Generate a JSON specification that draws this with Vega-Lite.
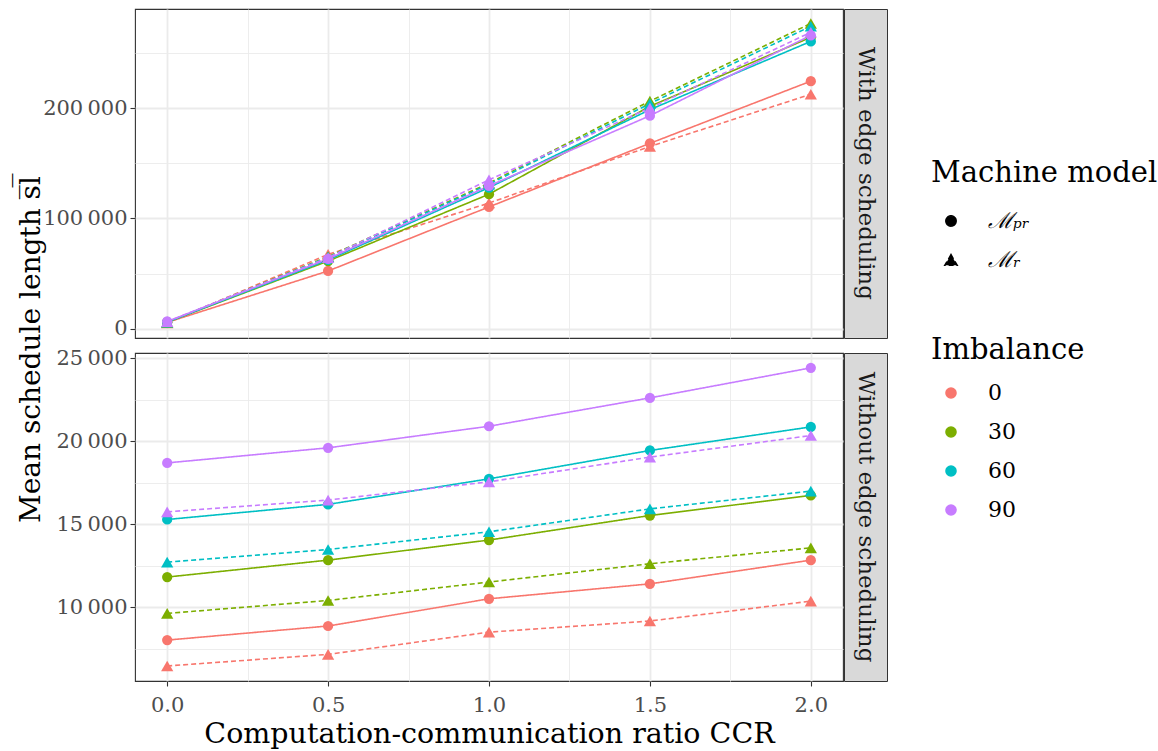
{
  "$schema": "https://vega.github.io/schema/vega-lite/v6.json",
  "background": "white",
  "padding": {"left": 16, "top": 8, "right": 0, "bottom": 0},
  "config": {
    "font": "DejaVu Serif",
    "locale": {"number": {"decimal": ".", "thousands": "\u2009", "grouping": [3], "currency": ["", ""]}},
    "view": {"stroke": "#333333", "strokeWidth": 1.1},
    "axis": {
      "domain": false,
      "tickColor": "#333333",
      "tickSize": 5,
      "tickWidth": 1.1,
      "labelColor": "#4D4D4D",
      "labelFontSize": 21,
      "labelPadding": 3,
      "gridColor": "#EBEBEB",
      "titleColor": "#000000",
      "titleFontWeight": "normal",
      "titleFontSize": 30
    },
    "legend": {
      "titleFontSize": 29,
      "titleFontWeight": "normal",
      "titleColor": "#000000",
      "titleLimit": 400,
      "labelFontSize": 22,
      "labelColor": "#000000",
      "symbolSize": 100,
      "symbolStrokeWidth": 1.6,
      "symbolOffset": 9,
      "rowPadding": 17,
      "titlePadding": 17,
      "labelOffset": 26
    }
  },
  "datasets": {
    "sl": [
      {"edges": "With edge scheduling", "model": "PR", "imbalance": "0", "ccr": 0.0, "length": 6000},
      {"edges": "With edge scheduling", "model": "PR", "imbalance": "0", "ccr": 0.5, "length": 52500},
      {"edges": "With edge scheduling", "model": "PR", "imbalance": "0", "ccr": 1.0, "length": 110500},
      {"edges": "With edge scheduling", "model": "PR", "imbalance": "0", "ccr": 1.5, "length": 168000},
      {"edges": "With edge scheduling", "model": "PR", "imbalance": "0", "ccr": 2.0, "length": 224300},
      {"edges": "With edge scheduling", "model": "R", "imbalance": "0", "ccr": 0.0, "length": 5500},
      {"edges": "With edge scheduling", "model": "R", "imbalance": "0", "ccr": 0.5, "length": 67500},
      {"edges": "With edge scheduling", "model": "R", "imbalance": "0", "ccr": 1.0, "length": 114000},
      {"edges": "With edge scheduling", "model": "R", "imbalance": "0", "ccr": 1.5, "length": 165200},
      {"edges": "With edge scheduling", "model": "R", "imbalance": "0", "ccr": 2.0, "length": 212500},
      {"edges": "With edge scheduling", "model": "PR", "imbalance": "30", "ccr": 0.0, "length": 6200},
      {"edges": "With edge scheduling", "model": "PR", "imbalance": "30", "ccr": 0.5, "length": 61500},
      {"edges": "With edge scheduling", "model": "PR", "imbalance": "30", "ccr": 1.0, "length": 122000},
      {"edges": "With edge scheduling", "model": "PR", "imbalance": "30", "ccr": 1.5, "length": 201500},
      {"edges": "With edge scheduling", "model": "PR", "imbalance": "30", "ccr": 2.0, "length": 264000},
      {"edges": "With edge scheduling", "model": "R", "imbalance": "30", "ccr": 0.0, "length": 6000},
      {"edges": "With edge scheduling", "model": "R", "imbalance": "30", "ccr": 0.5, "length": 65500},
      {"edges": "With edge scheduling", "model": "R", "imbalance": "30", "ccr": 1.0, "length": 132000},
      {"edges": "With edge scheduling", "model": "R", "imbalance": "30", "ccr": 1.5, "length": 206200},
      {"edges": "With edge scheduling", "model": "R", "imbalance": "30", "ccr": 2.0, "length": 276500},
      {"edges": "With edge scheduling", "model": "PR", "imbalance": "60", "ccr": 0.0, "length": 6300},
      {"edges": "With edge scheduling", "model": "PR", "imbalance": "60", "ccr": 0.5, "length": 62500},
      {"edges": "With edge scheduling", "model": "PR", "imbalance": "60", "ccr": 1.0, "length": 128000},
      {"edges": "With edge scheduling", "model": "PR", "imbalance": "60", "ccr": 1.5, "length": 198500},
      {"edges": "With edge scheduling", "model": "PR", "imbalance": "60", "ccr": 2.0, "length": 260300},
      {"edges": "With edge scheduling", "model": "R", "imbalance": "60", "ccr": 0.0, "length": 6100},
      {"edges": "With edge scheduling", "model": "R", "imbalance": "60", "ccr": 0.5, "length": 65000},
      {"edges": "With edge scheduling", "model": "R", "imbalance": "60", "ccr": 1.0, "length": 131000},
      {"edges": "With edge scheduling", "model": "R", "imbalance": "60", "ccr": 1.5, "length": 204000},
      {"edges": "With edge scheduling", "model": "R", "imbalance": "60", "ccr": 2.0, "length": 274000},
      {"edges": "With edge scheduling", "model": "PR", "imbalance": "90", "ccr": 0.0, "length": 6800},
      {"edges": "With edge scheduling", "model": "PR", "imbalance": "90", "ccr": 0.5, "length": 63500},
      {"edges": "With edge scheduling", "model": "PR", "imbalance": "90", "ccr": 1.0, "length": 129500},
      {"edges": "With edge scheduling", "model": "PR", "imbalance": "90", "ccr": 1.5, "length": 193000},
      {"edges": "With edge scheduling", "model": "PR", "imbalance": "90", "ccr": 2.0, "length": 265800},
      {"edges": "With edge scheduling", "model": "R", "imbalance": "90", "ccr": 0.0, "length": 6600},
      {"edges": "With edge scheduling", "model": "R", "imbalance": "90", "ccr": 0.5, "length": 64500},
      {"edges": "With edge scheduling", "model": "R", "imbalance": "90", "ccr": 1.0, "length": 135000},
      {"edges": "With edge scheduling", "model": "R", "imbalance": "90", "ccr": 1.5, "length": 200000},
      {"edges": "With edge scheduling", "model": "R", "imbalance": "90", "ccr": 2.0, "length": 268500},
      {"edges": "Without edge scheduling", "model": "PR", "imbalance": "0", "ccr": 0.0, "length": 8010},
      {"edges": "Without edge scheduling", "model": "PR", "imbalance": "0", "ccr": 0.5, "length": 8860},
      {"edges": "Without edge scheduling", "model": "PR", "imbalance": "0", "ccr": 1.0, "length": 10500},
      {"edges": "Without edge scheduling", "model": "PR", "imbalance": "0", "ccr": 1.5, "length": 11400},
      {"edges": "Without edge scheduling", "model": "PR", "imbalance": "0", "ccr": 2.0, "length": 12830},
      {"edges": "Without edge scheduling", "model": "R", "imbalance": "0", "ccr": 0.0, "length": 6450},
      {"edges": "Without edge scheduling", "model": "R", "imbalance": "0", "ccr": 0.5, "length": 7150},
      {"edges": "Without edge scheduling", "model": "R", "imbalance": "0", "ccr": 1.0, "length": 8490},
      {"edges": "Without edge scheduling", "model": "R", "imbalance": "0", "ccr": 1.5, "length": 9160},
      {"edges": "Without edge scheduling", "model": "R", "imbalance": "0", "ccr": 2.0, "length": 10360},
      {"edges": "Without edge scheduling", "model": "PR", "imbalance": "30", "ccr": 0.0, "length": 11810},
      {"edges": "Without edge scheduling", "model": "PR", "imbalance": "30", "ccr": 0.5, "length": 12830},
      {"edges": "Without edge scheduling", "model": "PR", "imbalance": "30", "ccr": 1.0, "length": 14040},
      {"edges": "Without edge scheduling", "model": "PR", "imbalance": "30", "ccr": 1.5, "length": 15520},
      {"edges": "Without edge scheduling", "model": "PR", "imbalance": "30", "ccr": 2.0, "length": 16730},
      {"edges": "Without edge scheduling", "model": "R", "imbalance": "30", "ccr": 0.0, "length": 9620},
      {"edges": "Without edge scheduling", "model": "R", "imbalance": "30", "ccr": 0.5, "length": 10400},
      {"edges": "Without edge scheduling", "model": "R", "imbalance": "30", "ccr": 1.0, "length": 11510},
      {"edges": "Without edge scheduling", "model": "R", "imbalance": "30", "ccr": 1.5, "length": 12610},
      {"edges": "Without edge scheduling", "model": "R", "imbalance": "30", "ccr": 2.0, "length": 13570},
      {"edges": "Without edge scheduling", "model": "PR", "imbalance": "60", "ccr": 0.0, "length": 15280},
      {"edges": "Without edge scheduling", "model": "PR", "imbalance": "60", "ccr": 0.5, "length": 16190},
      {"edges": "Without edge scheduling", "model": "PR", "imbalance": "60", "ccr": 1.0, "length": 17730},
      {"edges": "Without edge scheduling", "model": "PR", "imbalance": "60", "ccr": 1.5, "length": 19440},
      {"edges": "Without edge scheduling", "model": "PR", "imbalance": "60", "ccr": 2.0, "length": 20860},
      {"edges": "Without edge scheduling", "model": "R", "imbalance": "60", "ccr": 0.0, "length": 12710},
      {"edges": "Without edge scheduling", "model": "R", "imbalance": "60", "ccr": 0.5, "length": 13470},
      {"edges": "Without edge scheduling", "model": "R", "imbalance": "60", "ccr": 1.0, "length": 14540},
      {"edges": "Without edge scheduling", "model": "R", "imbalance": "60", "ccr": 1.5, "length": 15920},
      {"edges": "Without edge scheduling", "model": "R", "imbalance": "60", "ccr": 2.0, "length": 16990},
      {"edges": "Without edge scheduling", "model": "PR", "imbalance": "90", "ccr": 0.0, "length": 18690},
      {"edges": "Without edge scheduling", "model": "PR", "imbalance": "90", "ccr": 0.5, "length": 19600},
      {"edges": "Without edge scheduling", "model": "PR", "imbalance": "90", "ccr": 1.0, "length": 20900},
      {"edges": "Without edge scheduling", "model": "PR", "imbalance": "90", "ccr": 1.5, "length": 22610},
      {"edges": "Without edge scheduling", "model": "PR", "imbalance": "90", "ccr": 2.0, "length": 24420},
      {"edges": "Without edge scheduling", "model": "R", "imbalance": "90", "ccr": 0.0, "length": 15740},
      {"edges": "Without edge scheduling", "model": "R", "imbalance": "90", "ccr": 0.5, "length": 16450},
      {"edges": "Without edge scheduling", "model": "R", "imbalance": "90", "ccr": 1.0, "length": 17550},
      {"edges": "Without edge scheduling", "model": "R", "imbalance": "90", "ccr": 1.5, "length": 19040},
      {"edges": "Without edge scheduling", "model": "R", "imbalance": "90", "ccr": 2.0, "length": 20340}
    ]
  },
  "spacing": -2,
  "resolve": {"scale": {"color": "shared", "shape": "shared", "strokeDash": "shared", "size": "shared"}},
  "hconcat": [
    {
      "spacing": 15,
      "bounds": "flush",
      "vconcat": [
        {
          "width": 708,
          "height": 329,
          "data": {"name": "sl"},
          "transform": [{"filter": "datum.edges === 'With edge scheduling'"}],
          "encoding": {
            "x": {
              "field": "ccr",
              "type": "quantitative",
              "scale": {"domain": [-0.1, 2.1], "nice": false, "zero": false},
              "axis": {
                "title": null,
                "labels": false,
                "ticks": false,
                "values": [0, 0.25, 0.5, 0.75, 1, 1.25, 1.5, 1.75, 2],
                "gridWidth": {"condition": {"test": "datum.value % 0.5 !== 0", "value": 0.9}, "value": 1.8}
              }
            },
            "y": {
              "field": "length",
              "type": "quantitative",
              "scale": {"domain": [-8150, 289600], "nice": false, "zero": false},
              "axis": {
                "title": "Mean schedule length s\u0305l\u0305",
                "titleFontSize": 28,
                "titleX": -96,
                "titleY": 340,
                "titleBaseline": "alphabetic",
                "values": [0, 50000, 100000, 150000, 200000, 250000],
                "format": ",d",
                "labelExpr": "datum.value % 100000 === 0 ? datum.label : ''",
                "tickOpacity": {"condition": {"test": "datum.value % 100000 !== 0", "value": 0}, "value": 1},
                "gridWidth": {"condition": {"test": "datum.value % 100000 !== 0", "value": 0.9}, "value": 1.8}
              }
            },
            "color": {
              "field": "imbalance",
              "type": "nominal",
              "title": "Imbalance",
              "scale": {"domain": ["0", "30", "60", "90"], "range": ["#F8766D", "#7CAE00", "#00BFC4", "#C77CFF"]},
              "legend": {"orient": "none", "legendX": 796, "legendY": 327}
            }
          },
          "layer": [
            {
              "mark": {"type": "line", "strokeWidth": 1.6},
              "encoding": {
                "strokeDash": {
                  "field": "model",
                  "type": "nominal",
                  "title": "Machine model",
                  "scale": {"domain": ["PR", "R"], "range": [[1, 0], [5, 3]]},
                  "legend": {"orient": "none", "legendX": 796, "legendY": 150, "titlePadding": 22, "labelExpr": "datum.label === 'PR' ? '\u2133\u209a\u1d63' : '\u2133\u1d63'", "labelFontStyle": "italic"}
                }
              }
            },
            {
              "mark": {"type": "point", "filled": true, "opacity": 1},
              "encoding": {
                "shape": {
                  "field": "model",
                  "type": "nominal",
                  "title": "Machine model",
                  "scale": {"domain": ["PR", "R"], "range": ["circle", "triangle-up"]},
                  "legend": {"orient": "none", "legendX": 796, "legendY": 150, "titlePadding": 22, "labelExpr": "datum.label === 'PR' ? '\u2133\u209a\u1d63' : '\u2133\u1d63'", "labelFontStyle": "italic", "symbolFillColor": "#000000", "symbolStrokeColor": "#000000"}
                },
                "size": {
                  "field": "model",
                  "type": "nominal",
                  "scale": {"domain": ["PR", "R"], "range": [105, 150]},
                  "legend": null
                }
              }
            }
          ]
        },
        {
          "width": 708,
          "height": 328,
          "data": {"name": "sl"},
          "transform": [{"filter": "datum.edges === 'Without edge scheduling'"}],
          "encoding": {
            "x": {
              "field": "ccr",
              "type": "quantitative",
              "scale": {"domain": [-0.1, 2.1], "nice": false, "zero": false},
              "axis": {
                "title": "Computation-communication ratio CCR",
                "titleFontSize": 28.5,
                "titlePadding": 4,
                "labelPadding": 8,
                "values": [0, 0.25, 0.5, 0.75, 1, 1.25, 1.5, 1.75, 2],
                "labelExpr": "datum.value % 0.5 === 0 ? format(datum.value, '.1f') : ''",
                "tickOpacity": {"condition": {"test": "datum.value % 0.5 !== 0", "value": 0}, "value": 1},
                "gridWidth": {"condition": {"test": "datum.value % 0.5 !== 0", "value": 0.9}, "value": 1.8}
              }
            },
            "y": {
              "field": "length",
              "type": "quantitative",
              "scale": {"domain": [5545, 25315], "nice": false, "zero": false},
              "axis": {
                "title": null,
                "values": [7500, 10000, 12500, 15000, 17500, 20000, 22500, 25000],
                "format": ",d",
                "labelExpr": "datum.value % 5000 === 0 ? datum.label : ''",
                "tickOpacity": {"condition": {"test": "datum.value % 5000 !== 0", "value": 0}, "value": 1},
                "gridWidth": {"condition": {"test": "datum.value % 5000 !== 0", "value": 0.9}, "value": 1.8}
              }
            },
            "color": {"field": "imbalance", "type": "nominal", "title": "Imbalance"}
          },
          "layer": [
            {
              "mark": {"type": "line", "strokeWidth": 1.6},
              "encoding": {"strokeDash": {"field": "model", "type": "nominal", "title": "Machine model"}}
            },
            {
              "mark": {"type": "point", "filled": true, "opacity": 1},
              "encoding": {
                "shape": {"field": "model", "type": "nominal", "title": "Machine model"},
                "size": {"field": "model", "type": "nominal", "legend": null}
              }
            }
          ]
        }
      ]
    },
    {
      "spacing": 15,
      "bounds": "flush",
      "vconcat": [
        {
          "width": 43,
          "height": 329,
          "view": {"fill": "#D9D9D9", "stroke": "#333333"},
          "data": {"values": [{"strip": "With edge scheduling"}]},
          "mark": {"type": "text", "angle": 90, "fontSize": 23, "color": "#1A1A1A", "align": "center", "baseline": "middle"},
          "encoding": {"text": {"field": "strip"}}
        },
        {
          "width": 43,
          "height": 328,
          "view": {"fill": "#D9D9D9", "stroke": "#333333"},
          "data": {"values": [{"strip": "Without edge scheduling"}]},
          "mark": {"type": "text", "angle": 90, "fontSize": 23, "color": "#1A1A1A", "align": "center", "baseline": "middle"},
          "encoding": {"text": {"field": "strip"}}
        }
      ]
    }
  ]
}
